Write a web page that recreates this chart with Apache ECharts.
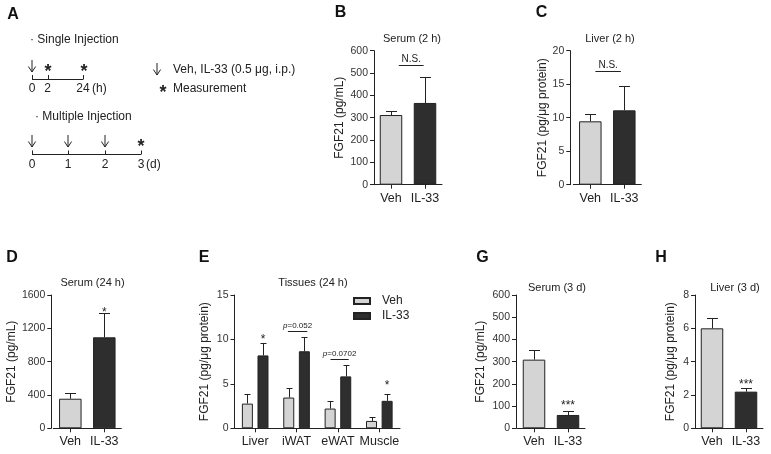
<!DOCTYPE html>
<html><head><meta charset="utf-8">
<script src="https://cdn.jsdelivr.net/npm/echarts@6/dist/echarts.min.js"></script>
<style>html,body{margin:0;padding:0;background:#fff}#c{width:771px;height:454px}</style>
</head><body><div id="c"></div>
<script>
// ---------------- data ----------------
const groups = ['Veh', 'IL-33'];
const tissues = ['Liver', 'iWAT', 'eWAT', 'Muscle'];

// B: Serum (2 h)  mean, mean+SEM
const serum2hMean = [312, 366];
const serum2hErr  = [331, 481];
// C: Liver (2 h)
const liver2hMean = [9.46, 11.1];
const liver2hErr  = [10.55, 14.7];
// D: Serum (24 h)
const serum24hMean = [355, 1092];
const serum24hErr  = [420, 1380];
// E: Tissues (24 h)
const tissueVehMean = [2.78, 3.46, 2.22, 0.83];
const tissueVehErr  = [3.85, 4.48, 3.05, 1.24];
const tissueIlMean  = [8.2, 8.67, 5.84, 3.09];
const tissueIlErr   = [9.6, 10.3, 7.16, 3.88];
// G: Serum (3 d)
const serum3dMean = [309, 60];
const serum3dErr  = [352, 76.5];
// H: Liver (3 d)
const liver3dMean = [6.0, 2.2];
const liver3dErr  = [6.64, 2.44];

// y tick labels
const ticksB = [0, 100, 200, 300, 400, 500, 600];
const ticksC = [0, 5, 10, 15, 20];
const ticksD = [0, 400, 800, 1200, 1600];
const ticksE = [0, 5, 10, 15];
const ticksG = [0, 100, 200, 300, 400, 500, 600];
const ticksH = [0, 2, 4, 6, 8];

// significance annotations (category position, value)
const bracketsB = [{from: 0.23, to: 0.96, y: 536, text: 'N.S.'}];
const bracketsC = [{from: 0.15, to: 0.90, y: 17, text: 'N.S.'}];
const bracketsE = [{from: 0.79, to: 1.26, y: 10.9, text: '{i|p}=0.052'},
                   {from: 1.82, to: 2.26, y: 7.84, text: '{i|p}=0.0702'}];
const starsD = [{at: 1, y: 1420, text: '*'}];
const starsE = [{at: 0.19, y: 10.25, text: '*'}, {at: 3.19, y: 5.05, text: '*'}];
const starsG = [{at: 1, y: 112, text: '***'}];
const starsH = [{at: 1, y: 2.8, text: '***'}];

// ---------------- style ----------------
const FONT = '"Liberation Sans", Arial, Helvetica, sans-serif';
const TXT = '#222';
const EDGE = '#222';
const LIGHT = '#d4d4d4';
const DARK = '#2e2e2e';
const YNAME = 'FGF21 (pg/μg protein)';

const panels = [
  {key:'B', cats:groups, means:serum2hMean, errs:serum2hErr, ticks:ticksB, name:'FGF21 (pg/mL)',
   grid:{left:374, top:50.7, width:68, height:134}, yOffset:0, nameGap:28},
  {key:'C', cats:groups, means:liver2hMean, errs:liver2hErr, ticks:ticksC, name:YNAME,
   grid:{left:573.3, top:50.7, width:68, height:134}, yOffset:3, nameGap:18},
  {key:'D', cats:groups, means:serum24hMean, errs:serum24hErr, ticks:ticksD, name:'FGF21 (pg/mL)',
   grid:{left:53.3, top:295, width:68, height:133.3}, yOffset:2, nameGap:31},
  {key:'G', cats:groups, means:serum3dMean, errs:serum3dErr, ticks:ticksG, name:'FGF21 (pg/mL)',
   grid:{left:517, top:295, width:68, height:133.3}, yOffset:1, nameGap:29},
  {key:'H', cats:groups, means:liver3dMean, errs:liver3dErr, ticks:ticksH, name:YNAME,
   grid:{left:695, top:295, width:68, height:133.3}, yOffset:0, nameGap:18}
];
const panelE = {key:'E', cats:tissues, ticks:ticksE, name:YNAME,
   grid:{left:234.5, top:295, width:165.5, height:133.3}, yOffset:0, nameGap:24};

function xAx(gi, cats) {
  return {type:'category', gridIndex:gi, data:cats, boundaryGap:true,
    axisLine:{show:true, lineStyle:{color:EDGE, width:1}},
    axisTick:{show:true, alignWithLabel:true, length:4, lineStyle:{color:EDGE, width:1}},
    axisLabel:{color:TXT, fontSize:12.5, fontFamily:FONT, margin:7, interval:0},
    splitLine:{show:false}};
}
function yAx(gi, p) {
  const t = p.ticks;
  return {type:'value', gridIndex:gi, min:t[0], max:t[t.length-1], interval:t[1]-t[0],
    offset:p.yOffset, name:p.name, nameLocation:'middle', nameGap:p.nameGap,
    nameTextStyle:{color:TXT, fontSize:12, fontFamily:FONT},
    axisLine:{show:true, lineStyle:{color:EDGE, width:1}},
    axisTick:{show:true, length:4, lineStyle:{color:EDGE, width:1}},
    axisLabel:{color:'#333', fontSize:10.5, fontFamily:FONT, margin:6, formatter:v => String(v)},
    splitLine:{show:false}};
}
function errRender(dx, cap) {
  return function (params, api) {
    const c = api.coord([api.value(0), api.value(1)]);
    const t = api.coord([api.value(0), api.value(2)]);
    const x = Math.round(c[0] + dx) + 0.5;
    const yt = Math.round(t[1]) + 0.5;
    return {type:'group', children:[
      {type:'line', shape:{x1:x, y1:c[1], x2:x, y2:yt}, style:{stroke:EDGE, lineWidth:1}},
      {type:'line', shape:{x1:x-cap, y1:yt, x2:x+cap, y2:yt}, style:{stroke:EDGE, lineWidth:1}}
    ]};
  };
}

const grids = [], xAxes = [], yAxes = [], series = [];
panels.forEach((p, gi) => {
  grids.push(Object.assign({containLabel:false}, p.grid));
  xAxes.push(xAx(gi, p.cats));
  yAxes.push(yAx(gi, p));
  series.push({type:'bar', name:p.key, xAxisIndex:gi, yAxisIndex:gi, barWidth:22.5, silent:true,
    data:p.means.map((v, i) => ({value:v, itemStyle:{color: i === 0 ? LIGHT : DARK}})),
    itemStyle:{borderColor:EDGE, borderWidth:1}});
  series.push({type:'custom', name:p.key + 'err', xAxisIndex:gi, yAxisIndex:gi, silent:true, z:3,
    renderItem:errRender(0, 5.5), encode:{x:0, y:[1, 2]},
    data:p.means.map((v, i) => [i, v, p.errs[i]])});
});
const gE = panels.length;
grids.push(Object.assign({containLabel:false}, panelE.grid));
xAxes.push(xAx(gE, panelE.cats));
yAxes.push(yAx(gE, panelE));
series.push({type:'bar', name:'Veh', xAxisIndex:gE, yAxisIndex:gE, barWidth:11, barGap:'42%', silent:true,
  data:tissueVehMean, itemStyle:{color:LIGHT, borderColor:EDGE, borderWidth:1}});
series.push({type:'bar', name:'IL-33', xAxisIndex:gE, yAxisIndex:gE, barWidth:11, barGap:'42%', silent:true,
  data:tissueIlMean, itemStyle:{color:DARK, borderColor:EDGE, borderWidth:1}});
series.push({type:'custom', name:'Veh err', xAxisIndex:gE, yAxisIndex:gE, silent:true, z:3,
  renderItem:errRender(-7.8, 3), encode:{x:0, y:[1, 2]},
  data:tissueVehMean.map((v, i) => [i, v, tissueVehErr[i]])});
series.push({type:'custom', name:'IL-33 err', xAxisIndex:gE, yAxisIndex:gE, silent:true, z:3,
  renderItem:errRender(7.8, 3), encode:{x:0, y:[1, 2]},
  data:tissueIlMean.map((v, i) => [i, v, tissueIlErr[i]])});

// ---------------- static graphics ----------------
function txt(x, y, s, opt) {
  opt = opt || {};
  return {type:'text', x:x, y:y, silent:true, style:Object.assign({text:s, fill:TXT,
    fontFamily:FONT, fontSize:12, align:'left', verticalAlign:'middle'}, opt)};
}
function seg(x1, y1, x2, y2) {
  return {type:'line', silent:true, shape:{x1:x1, y1:y1, x2:x2, y2:y2}, style:{stroke:TXT, lineWidth:1}};
}
function arrow(x, y1, y2) {
  return [seg(x, y1, x, y2),
    {type:'polyline', silent:true, shape:{points:[[x-3.6, y2-5.5], [x, y2], [x+3.6, y2-5.5]]},
     style:{stroke:TXT, fill:null, lineWidth:1}}];
}
function star(x, y) { return txt(x, y + 4, '*', {fontSize:18, fontWeight:'bold', align:'center'}); }

const graphics = [];
// panel letters
[['A', 13, 15], ['B', 340.5, 13], ['C', 541.5, 13], ['D', 12, 258], ['E', 204, 258], ['G', 482.5, 258], ['H', 661, 258]]
  .forEach(l => graphics.push(txt(l[1], l[2], l[0], {fontSize:16, fontWeight:'bold', align:'center', fill:'#111'})));
// panel titles
[['Serum (2 h)', 412, 39], ['Liver (2 h)', 610, 39], ['Serum (24 h)', 92.5, 283], ['Tissues (24 h)', 313, 283],
 ['Serum (3 d)', 557, 288], ['Liver (3 d)', 735, 288]]
  .forEach(t => graphics.push(txt(t[1], t[2], t[0], {fontSize:11, align:'center'})));
// schematic A
graphics.push(txt(30, 40, '· Single Injection'));
graphics.push(...arrow(32, 60, 72));
graphics.push(star(48, 68), star(84, 68));
graphics.push(seg(32, 79.5, 83, 79.5), seg(32.5, 75, 32.5, 79.5), seg(48.5, 75, 48.5, 79.5), seg(83.5, 75, 83.5, 79.5));
graphics.push(txt(32, 89, '0', {align:'center'}), txt(47.5, 89, '2', {align:'center'}), txt(83, 89, '24', {align:'center'}),
  txt(92, 89, '(h)'));
graphics.push(...arrow(157, 63, 75));
graphics.push(txt(173, 70, 'Veh, IL-33 (0.5 μg, i.p.)'));
graphics.push(star(163, 89));
graphics.push(txt(173, 89, 'Measurement'));
graphics.push(txt(35, 117, '· Multiple Injection'));
[32, 68, 105].forEach(x => graphics.push(...arrow(x, 135, 147)));
graphics.push(star(141, 143));
graphics.push(seg(32, 154.5, 141, 154.5));
[32.5, 68.5, 105.5, 141.5].forEach(x => graphics.push(seg(x, 150.5, x, 154.5)));
graphics.push(txt(32, 165, '0', {align:'center'}), txt(68, 165, '1', {align:'center'}), txt(105, 165, '2', {align:'center'}),
  txt(141, 165, '3', {align:'center'}), txt(146, 165, '(d)'));

const chart = echarts.init(document.getElementById('c'), null, {renderer:'canvas'});
chart.setOption({
  animation:false,
  backgroundColor:'#fff',
  textStyle:{fontFamily:FONT},
  grid:grids, xAxis:xAxes, yAxis:yAxes, series:series,
  legend:{data:['Veh', 'IL-33'], left:353, top:295, padding:0, orient:'vertical', itemWidth:16, itemHeight:6, itemGap:3,
    icon:'rect', selectedMode:false,
    textStyle:{color:TXT, fontSize:12, fontFamily:FONT, lineHeight:12, padding:[0, 0, 0, 7]}},
  graphic:graphics
});

// ---------------- annotations via axis conversion ----------------
function toPx(gi, f, v) {
  const a = chart.convertToPixel({xAxisIndex:gi, yAxisIndex:gi}, [0, v]);
  const b = chart.convertToPixel({xAxisIndex:gi, yAxisIndex:gi}, [1, v]);
  return [a[0] + f * (b[0] - a[0]), a[1]];
}
const extra = [];
function addBrackets(gi, list, fs) {
  list.forEach(br => {
    const p0 = toPx(gi, br.from, br.y), p1 = toPx(gi, br.to, br.y);
    const y = Math.round(p0[1]) + 0.5;
    extra.push(seg(p0[0], y, p1[0], y));
    extra.push({type:'text', silent:true, x:(p0[0] + p1[0]) / 2, y:y - 1.5,
      style:{text:br.text, fill:TXT, fontFamily:FONT, fontSize:fs, align:'center', verticalAlign:'bottom',
        rich:{i:{fontStyle:'italic', fontSize:fs, fontFamily:FONT, fill:TXT}}}});
  });
}
function addStars(gi, list) {
  list.forEach(s => {
    const p = toPx(gi, s.at, s.y);
    extra.push({type:'text', silent:true, x:p[0], y:p[1] + 2.6,
      style:{text:s.text, fill:TXT, fontFamily:FONT, fontSize:12, align:'center', verticalAlign:'middle'}});
  });
}
addBrackets(0, bracketsB, 10);
addBrackets(1, bracketsC, 10);
addBrackets(gE, bracketsE, 8);
addStars(2, starsD);
addStars(gE, starsE);
addStars(3, starsG);
addStars(4, starsH);
chart.setOption({graphic:graphics.concat(extra)});
</script>
</body></html>
